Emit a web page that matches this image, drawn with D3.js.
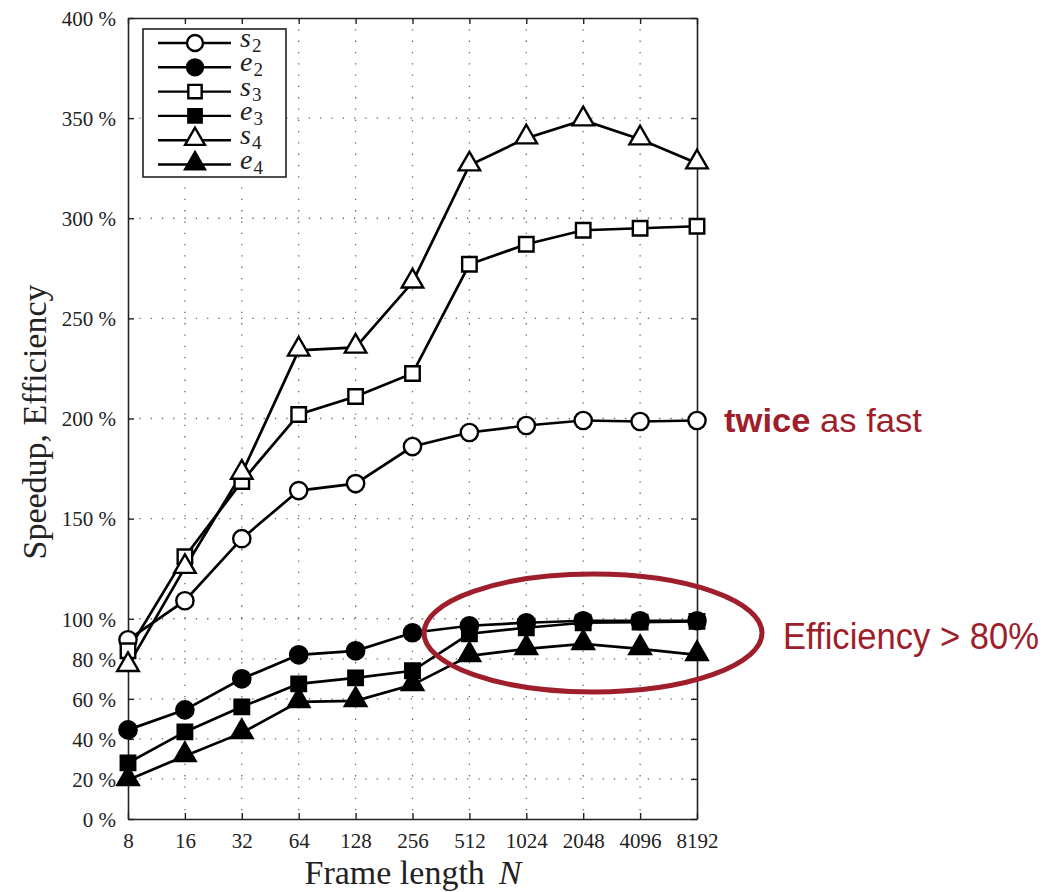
<!DOCTYPE html>
<html lang="en">
<head>
<meta charset="utf-8">
<title>Speedup and efficiency</title>
<script src="https://d3js.org/d3.v7.min.js"></script>
<style type="text/css">
  body { margin: 0; background: #fff; }
</style>
</head>
<body>
<script type="text/javascript">

// data
var frameLengths = [8, 16, 32, 64, 128, 256, 512, 1024, 2048, 4096, 8192];
var s2 = [89.5, 109, 140, 164, 167.5, 186, 193, 196.5, 199, 198.5, 199];
var e2 = [44.5, 54.5, 70, 82, 84, 93, 96.5, 98, 99, 99, 99];
var s3 = [84, 131, 168.5, 202, 211, 222.5, 277, 287, 294, 295, 296];
var e3 = [28, 43.5, 56, 67.5, 70.5, 74, 92.5, 95.5, 98, 98.3, 98.7];
var s4 = [76.5, 125.5, 172.5, 234, 235.5, 268, 326.5, 340, 349, 339.5, 327.5];
var e4 = [19.5, 31.5, 43, 58.5, 59, 67, 81.5, 85, 87.5, 85, 82];
var yTicks = [0, 20, 40, 60, 80, 100, 150, 200, 250, 300, 350, 400];

var seriesNames = ["s2", "e2", "s3", "e3", "s4", "e4"];
var seriesData = [s2, e2, s3, e3, s4, e4];

//Width and height
var w = 1047, h = 892;
var padL = 128, padR = 697, padT = 18, padB = 819;
var serif = "Liberation Serif, DejaVu Serif, serif";

var svg = d3.select("body").append("svg")
  .attr("width", w)
  .attr("height", h);

var x = d3.scalePoint().domain(frameLengths).range([padL, padR]);
var y = d3.scaleLinear().domain([0, 400]).range([padB, padT]);

// grid
var grid = svg.append("g")
  .attr("stroke", "#666")
  .attr("stroke-width", 1.3)
  .attr("stroke-dasharray", "1.3,10");

grid.selectAll("line.v")
  .data(frameLengths.slice(1, -1))
  .enter().append("line")
  .attr("x1", function(d) { return x(d); })
  .attr("x2", function(d) { return x(d); })
  .attr("y1", padT).attr("y2", padB);

grid.selectAll("line.h")
  .data(yTicks.slice(1, -1))
  .enter().append("line")
  .attr("y1", function(d) { return y(d); })
  .attr("y2", function(d) { return y(d); })
  .attr("x1", padL).attr("x2", padR);

// axes, ticks inward
var axB = svg.append("g").attr("transform", "translate(0," + padB + ")")
  .call(d3.axisBottom(x).tickSizeInner(-6).tickSizeOuter(0).tickPadding(13));
var axT = svg.append("g").attr("transform", "translate(0," + padT + ")")
  .call(d3.axisTop(x).tickSizeInner(-6).tickSizeOuter(0).tickFormat(""));
var axL = svg.append("g").attr("transform", "translate(" + padL + ",0)")
  .call(d3.axisLeft(y).tickValues(yTicks).tickSizeInner(-6).tickSizeOuter(0).tickPadding(12)
    .tickFormat(function(d) { return d + " %"; }));
var axR = svg.append("g").attr("transform", "translate(" + padR + ",0)")
  .call(d3.axisRight(y).tickValues(yTicks).tickSizeInner(-6).tickSizeOuter(0).tickFormat(""));

[axB, axT, axL, axR].forEach(function(a) {
  a.attr("font-family", serif).attr("font-size", 21);
  a.selectAll("path").attr("stroke", "#222").attr("stroke-width", 1.6);
  a.selectAll("line").attr("stroke", "#222").attr("stroke-width", 1.4);
  a.selectAll("text").attr("fill", "#222");
});
axL.selectAll("text").attr("dy", "0.35em");
axB.selectAll("text").attr("dy", "0.75em");

// axis titles
var xt = svg.append("text")
  .attr("x", 413).attr("y", 884)
  .attr("text-anchor", "middle")
  .attr("font-family", serif)
  .attr("font-size", 34).attr("fill", "#222");
xt.append("tspan").text("Frame length");
xt.append("tspan").attr("font-style", "italic").attr("dx", 14).text("N");

svg.append("text")
  .attr("transform", "translate(46,422) rotate(-90)")
  .attr("text-anchor", "middle")
  .attr("font-family", serif)
  .attr("font-size", 34).attr("fill", "#222")
  .text("Speedup, Efficiency");

// markers
function drawMarker(g, name, size) {
  var kind = name.charAt(1);
  var filled = name.charAt(0) == "e";
  var sym = kind == "2" ? d3.symbolCircle : (kind == "3" ? d3.symbolSquare : d3.symbolTriangle);
  var area = kind == "2" ? size * 235 : (kind == "3" ? size * 210 : size * 200);
  g.append("path")
    .attr("d", d3.symbol().type(sym).size(area)())
    .attr("transform", kind == "4" ? "translate(0,-1)" : null)
    .attr("fill", filled ? "#000" : "#fff")
    .attr("stroke", "#000")
    .attr("stroke-width", 2.4);
}

var line = d3.line()
  .x(function(d, i) { return x(frameLengths[i]); })
  .y(function(d) { return y(d); });

seriesData.forEach(function(vals, k) {
  svg.append("path")
    .datum(vals)
    .attr("d", line)
    .attr("fill", "none")
    .attr("stroke", "#000")
    .attr("stroke-width", 2.7);
});

seriesData.forEach(function(vals, k) {
  vals.forEach(function(v, i) {
    var g = svg.append("g").attr("transform", "translate(" + x(frameLengths[i]) + "," + y(v) + ")");
    drawMarker(g, seriesNames[k], 1);
  });
});

// legend
var lg = svg.append("g");
lg.append("rect")
  .attr("x", 143).attr("y", 29).attr("width", 143).attr("height", 148)
  .attr("fill", "#fff").attr("stroke", "#222").attr("stroke-width", 1.6);

seriesNames.forEach(function(name, i) {
  var yy = 43 + i * 24.3;
  lg.append("line")
    .attr("x1", 158).attr("x2", 231).attr("y1", yy).attr("y2", yy)
    .attr("stroke", "#000").attr("stroke-width", 2.4);
  var g = lg.append("g").attr("transform", "translate(195," + yy + ")");
  drawMarker(g, name, 0.85);
  var t = lg.append("text")
    .attr("x", 240).attr("y", yy + 4)
    .attr("font-family", serif)
    .attr("fill", "#222");
  t.append("tspan").attr("font-style", "italic").attr("font-size", 28).text(name.charAt(0));
  t.append("tspan").attr("font-size", 19).attr("dx", 1).attr("dy", 5).text(name.charAt(1));
});

// annotations
var red = "#9e1f2b";
var sans = "Liberation Sans Narrow, Liberation Sans, Arial, sans-serif";
var tw = svg.append("text")
  .attr("x", 724).attr("y", 432)
  .attr("font-family", sans)
  .attr("font-size", 33).attr("fill", red)
  .attr("textLength", 198).attr("lengthAdjust", "spacingAndGlyphs");
tw.append("tspan").attr("font-weight", "bold").text("twice");
tw.append("tspan").text(" as fast");

svg.append("ellipse")
  .attr("cx", 593).attr("cy", 633).attr("rx", 169).attr("ry", 59)
  .attr("fill", "none").attr("stroke", red).attr("stroke-width", 5);

svg.append("text")
  .attr("x", 783).attr("y", 649)
  .attr("font-family", sans)
  .attr("font-size", 37).attr("fill", red)
  .attr("textLength", 256).attr("lengthAdjust", "spacingAndGlyphs")
  .text("Efficiency > 80%");

</script>
</body>
</html>
